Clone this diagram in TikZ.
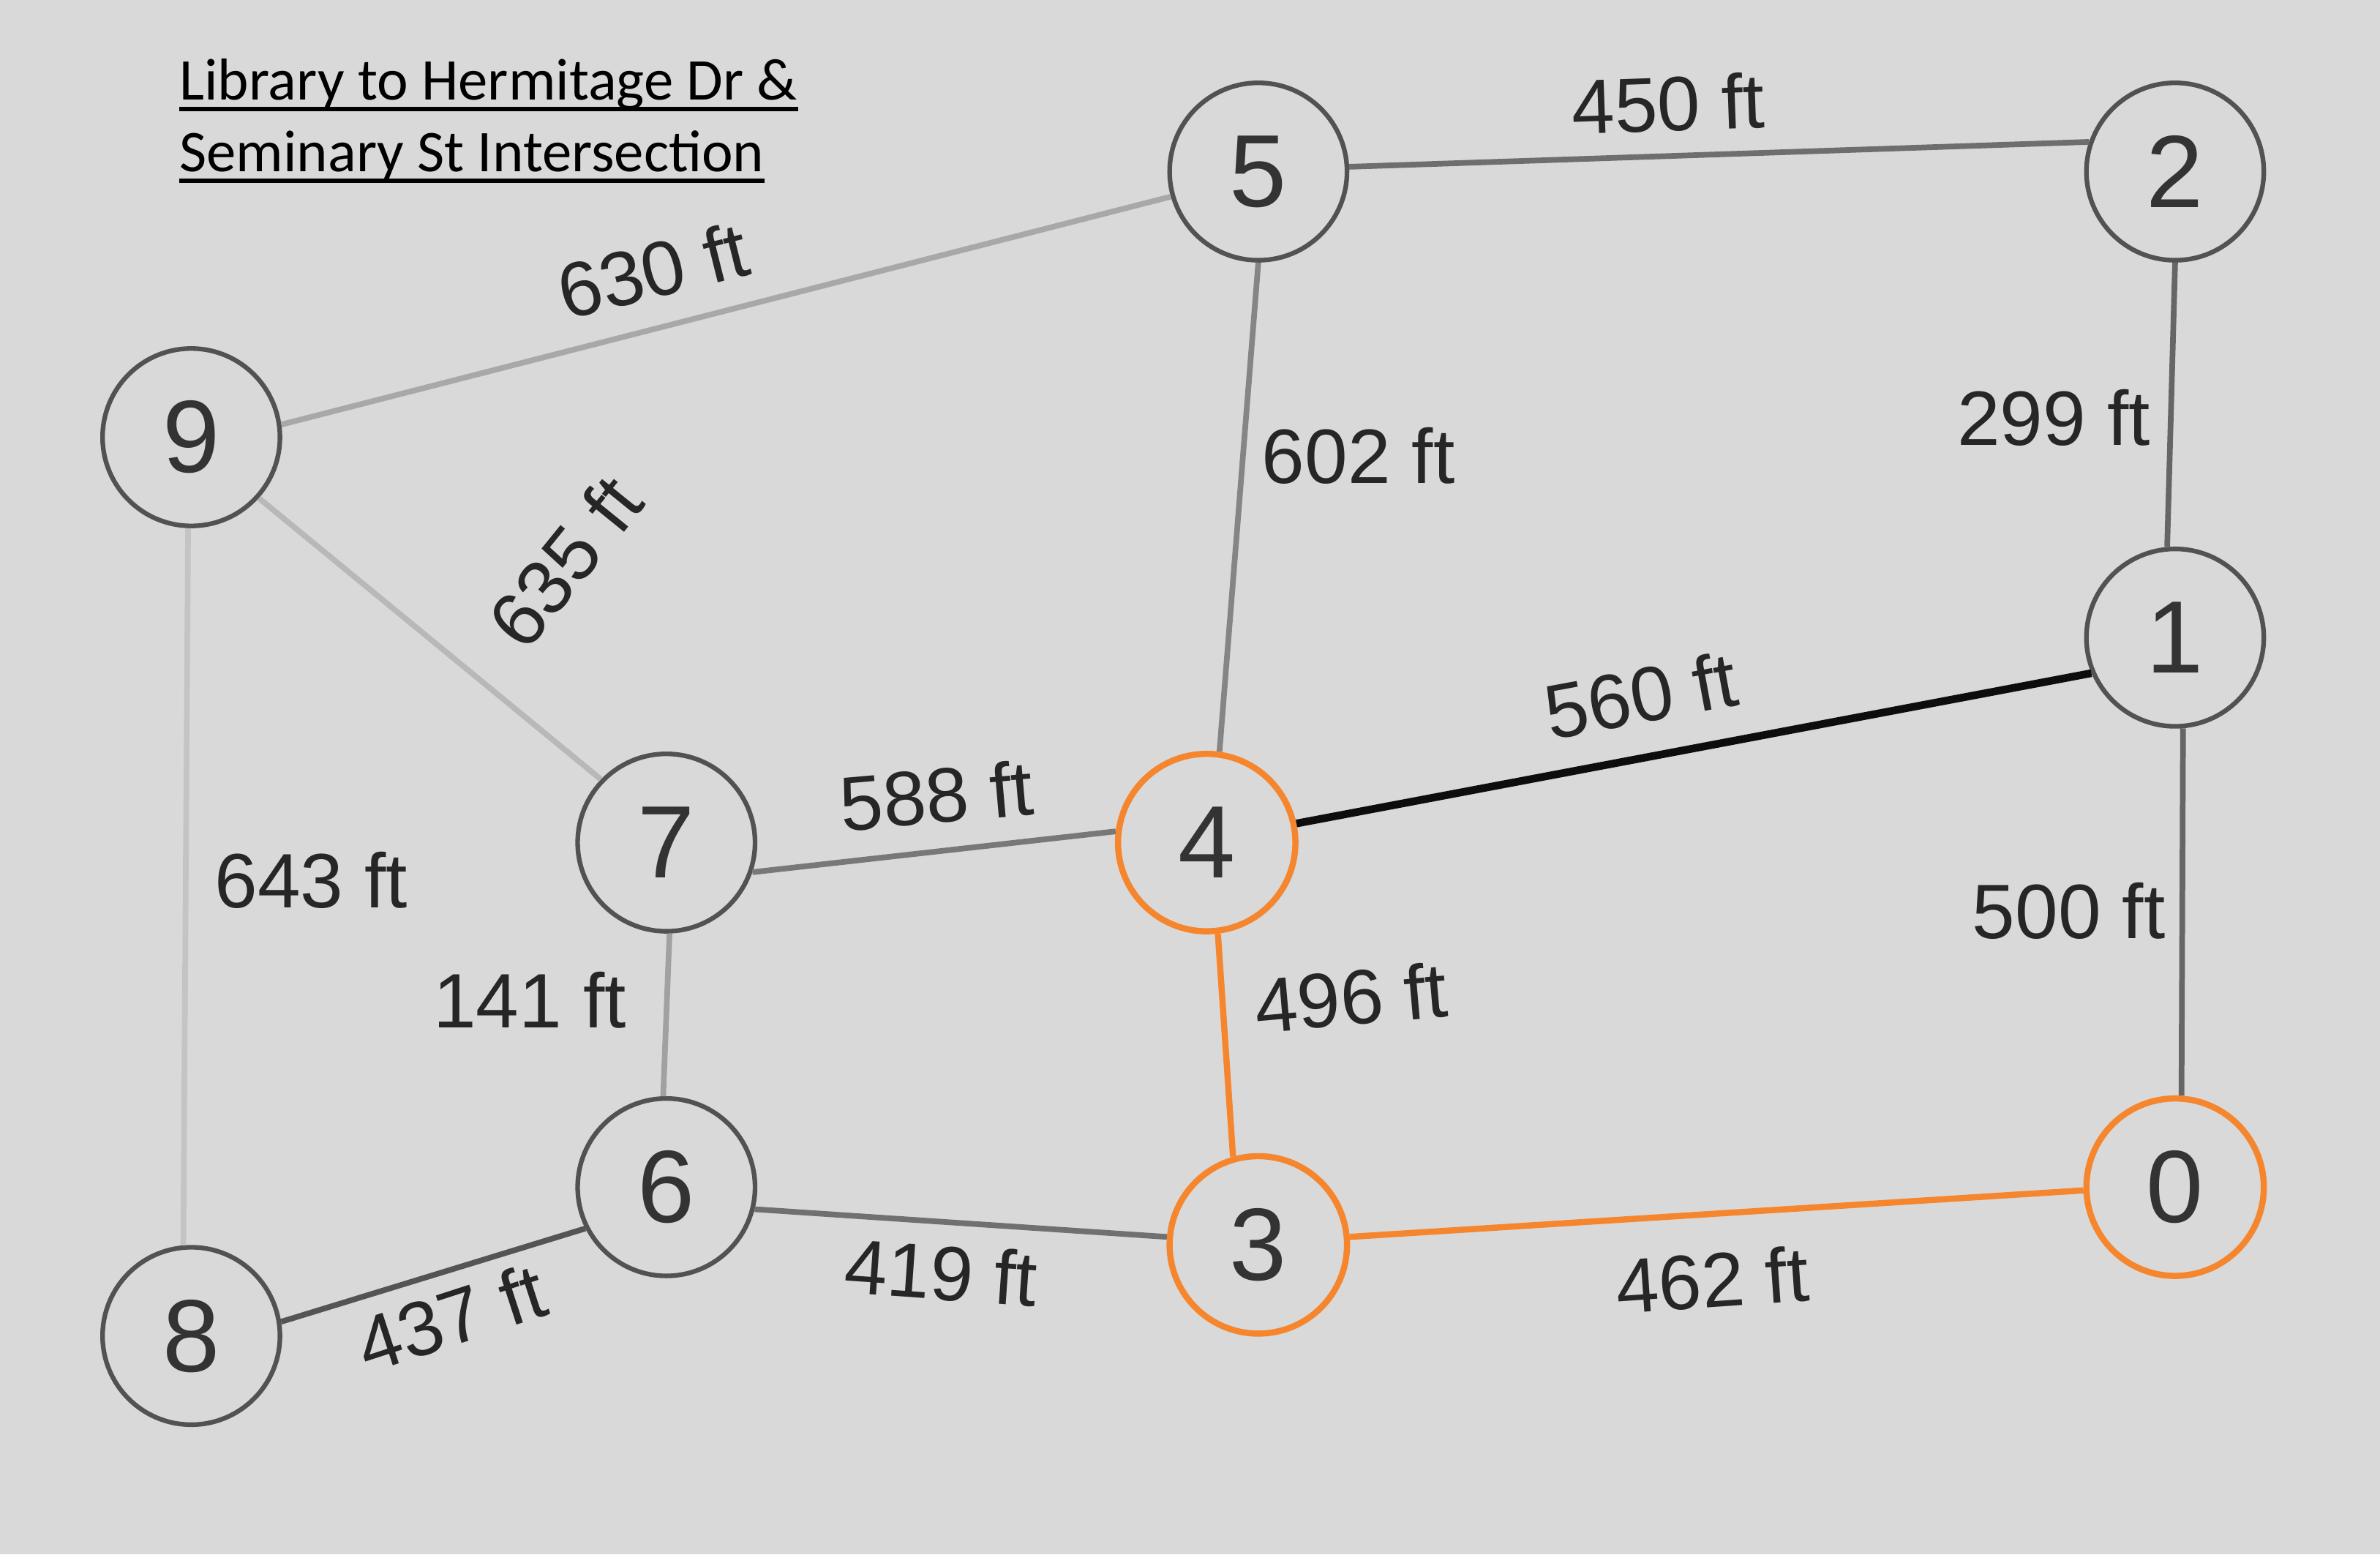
\documentclass[tikz,border=0pt]{standalone}
\usepackage{fontspec}
\setmainfont{Liberation Sans}
\newfontfamily\titlefont{Carlito}
\usetikzlibrary{calc}
\definecolor{bgray}{HTML}{D9D9D9}
\definecolor{routeorange}{HTML}{F5862E}
\tikzset{
  isect/.style={circle, draw=black!68, line width=1.8pt, fill=bgray, minimum size=69pt, inner sep=0pt, text=black!80, font=\fontsize{40}{40}\selectfont},
  road/.style={line width=2.2pt},
  route/.style={road, line width=2.4pt, draw=routeorange},
  dist/.style={text=black!85, font=\fontsize{30}{30}\selectfont, inner sep=0pt},
  heading/.style={inner sep=0pt, anchor=base west, font=\titlefont\fontsize{23}{23}\selectfont},
}
\begin{document}
\begin{tikzpicture}[x=0.020746cm, y=-0.020746cm]

    \fill[bgray] (0,0) rectangle (1568,1024);
    \useasboundingbox (0,0) rectangle (1568,1024);

    \node[heading] (t1) at (118,66) {Library to Hermitage Dr \&};
    \node[heading] (t2) at (118,113) {Seminary St Intersection};
    \draw[line width=1.7pt] ([yshift=-3.5pt]t1.base west) -- ([yshift=-3.5pt]t1.base east);
    \draw[line width=1.7pt] ([yshift=-3.5pt]t2.base west) -- ([yshift=-3.5pt]t2.base east);

    \node[isect] (n5) at (829,113) {5};
    \node[isect] (n2) at (1433,113) {2};
    \node[isect] (n9) at (126,288) {9};
    \node[isect] (n1) at (1433,420) {1};
    \node[isect] (n7) at (439,555) {7};
    \node[isect, draw=routeorange, line width=2.4pt] (n4) at (795,555) {4};
    \node[isect] (n6) at (439,782) {6};
    \node[isect, draw=routeorange, line width=2.4pt] (n3) at (829,820) {3};
    \node[isect, draw=routeorange, line width=2.4pt] (n0) at (1433,782) {0};
    \node[isect] (n8) at (126,880) {8};

    \draw[road, black!57] (n5.3) -- (n2.161);
    \draw[road, black!34] (n9.8) -- (n5.196);
    \draw[road, black!48] (n5.-90) -- (n4.82);
    \draw[road, black!60] (n2.-90) -- (n1.95);
    \draw[road, black!28] (n9.-42) -- (n7.136);
    \draw[road, black!23] (n9.-92) -- (n8.95);
    \draw[road, black!95, line width=3pt] (n4.12) -- (n1.203);
    \draw[road, black!53] (n7.-19) -- (n4.173);
    \draw[road, black!37] (n7.-88) -- (n6.92);
    \draw[road, black!67] (n8.9) -- (n6.207);
    \draw[road, black!56] (n6.-14) -- (n3.175);
    \draw[road, black!60] (n1.-85) -- (n0.86);
    \draw[route] (n4.-83) -- (n3.106);
    \draw[route] (n3.5) -- (n0.182);

    \node[dist, rotate=2] (l52) at (1099,68) {450 ft};
    \node[dist, rotate=14] (l95) at (430,178) {630 ft};
    \node[dist] (l54) at (895,300) {602 ft};
    \node[dist] (l21) at (1353,275) {299 ft};
    \node[dist, rotate=51] (l97) at (372,370) {635 ft};
    \node[dist, rotate=10.5] (l41) at (1081,458) {560 ft};
    \node[dist, rotate=5] (l74) at (617,524) {588 ft};
    \node[dist] (l98) at (205,580) {643 ft};
    \node[dist] (l76) at (349,659) {141 ft};
    \node[dist, rotate=5] (l43) at (890,657) {496 ft};
    \node[dist] (l10) at (1363,600) {500 ft};
    \node[dist, rotate=-4] (l63) at (620,838) {419 ft};
    \node[dist, rotate=4] (l30) at (1128,843) {462 ft};
    \node[dist, rotate=18] (l86) at (297,868) {437 ft};

\end{tikzpicture}
\end{document}
